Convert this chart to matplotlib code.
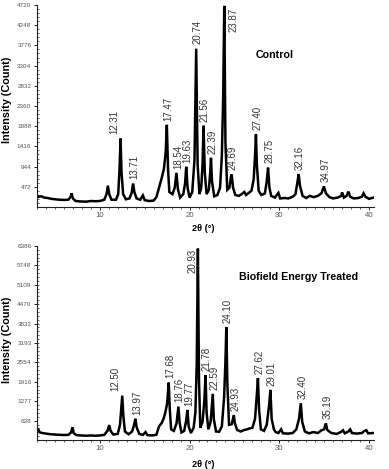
import matplotlib
matplotlib.use("Agg")
import matplotlib.pyplot as plt
from matplotlib.ticker import MultipleLocator, AutoMinorLocator, FixedLocator
import numpy as np

plt.rcParams['font.family'] = ['Liberation Sans', 'DejaVu Sans']

# ---------------- data ----------------
control_2theta = [3.0, 3.2, 3.5, 3.8, 4.2, 4.6, 5.0, 5.5, 6.0, 6.5, 6.75, 6.85, 7.0, 7.3, 7.8, 8.5, 9.0, 9.5,
                  10.0, 10.5, 10.75, 10.9, 11.05, 11.3, 11.8, 12.05, 12.2, 12.31, 12.42, 12.6, 12.9, 13.3, 13.55,
                  13.71, 13.85, 14.1, 14.5, 14.8, 15.0, 15.5, 16.0, 16.3, 16.6, 16.9, 17.15, 17.35, 17.47, 17.6,
                  17.75, 18.1, 18.35, 18.54, 18.7, 18.95, 19.3, 19.5, 19.63, 19.78, 20.0, 20.3, 20.55, 20.74, 20.9,
                  21.1, 21.3, 21.45, 21.56, 21.7, 21.9, 22.15, 22.3, 22.39, 22.5, 22.75, 23.1, 23.4, 23.6, 23.75,
                  23.87, 24.0, 24.2, 24.45, 24.6, 24.69, 24.85, 25.1, 25.5, 25.8, 26.1, 26.3, 26.6, 26.9, 27.15,
                  27.3, 27.40, 27.5, 27.7, 28.0, 28.4, 28.6, 28.75, 28.9, 29.1, 29.5, 29.9, 30.1, 30.6, 31.0, 31.5,
                  31.8, 32.0, 32.16, 32.3, 32.6, 33.0, 33.4, 33.8, 34.3, 34.7, 34.97, 35.2, 35.6, 36.0, 36.5, 36.9,
                  37.0, 37.2, 37.5, 37.7, 37.9, 38.3, 38.8, 39.2, 39.4, 39.6, 40.0, 40.5]
control_counts = [270, 240, 250, 220, 210, 190, 180, 170, 165, 170, 240, 320, 200, 140, 130, 125, 140, 135,
                  140, 170, 300, 500, 300, 170, 170, 300, 900, 1600, 800, 300, 180, 200, 330,
                  550, 350, 200, 170, 270, 160, 140, 150, 230, 450, 680, 900, 1300, 1920, 900,
                  350, 300, 450, 800, 420, 220, 300, 550, 940, 450, 220, 350, 1100, 3700, 1000,
                  300, 450, 1000, 1900, 800, 300, 400, 800, 1150, 600, 250, 280, 450, 1200, 2600,
                  4700, 1500, 400, 450, 700, 760, 450, 280, 260, 300, 350, 280, 330, 380, 650,
                  1200, 1700, 1000, 380, 280, 320, 600, 920, 450, 260, 220, 330, 200, 210, 200, 240,
                  300, 550, 770, 500, 260, 210, 260, 230, 260, 320, 480, 320, 230, 200, 220, 260,
                  340, 220, 260, 360, 240, 200, 210, 240, 320, 240, 190, 220]

treated_2theta = [3.0, 3.1, 3.3, 3.6, 4.0, 4.5, 5.0, 5.5, 6.0, 6.5, 6.8, 6.95, 7.1, 7.4, 8.0, 8.5, 9.0, 9.5,
                  10.0, 10.5, 10.85, 11.05, 11.2, 11.5, 12.0, 12.25, 12.4, 12.50, 12.62, 12.8, 13.2, 13.6, 13.82,
                  13.97, 14.1, 14.4, 14.8, 15.1, 15.3, 15.8, 16.3, 16.6, 16.9, 17.1, 17.3, 17.5, 17.68, 17.8,
                  17.95, 18.25, 18.55, 18.76, 18.9, 19.1, 19.4, 19.6, 19.77, 19.9, 20.15, 20.45, 20.65, 20.8,
                  20.93, 21.05, 21.2, 21.45, 21.65, 21.78, 21.9, 22.1, 22.35, 22.5, 22.59, 22.7, 22.95, 23.3,
                  23.6, 23.85, 24.0, 24.10, 24.22, 24.4, 24.7, 24.93, 25.05, 25.3, 25.7, 26.1, 26.4, 26.7, 27.0,
                  27.3, 27.5, 27.62, 27.75, 27.95, 28.3, 28.6, 28.85, 29.01, 29.15, 29.4, 29.6, 29.9, 30.2, 30.4,
                  31.0, 31.5, 31.9, 32.2, 32.40, 32.55, 32.85, 33.3, 33.8, 34.3, 34.7, 35.0, 35.19, 35.35, 35.8,
                  36.4, 36.9, 37.1, 37.3, 37.7, 37.9, 38.1, 38.6, 39.2, 39.5, 39.7, 39.9, 40.5]
treated_counts = [300, 380, 250, 230, 210, 190, 180, 170, 165, 170, 250, 420, 220, 160, 150, 140, 150, 140,
                  150, 170, 300, 490, 300, 180, 200, 500, 1100, 1460, 800, 280, 190, 280, 500,
                  700, 420, 200, 170, 260, 160, 150, 170, 450, 560, 700, 900, 1200, 1890, 1000,
                  350, 300, 550, 1100, 550, 250, 300, 600, 990, 450, 230, 400, 900, 2500,
                  6300, 2000, 400, 600, 1300, 2140, 900, 350, 600, 1200, 1520, 700, 280, 270,
                  450, 1400, 2600, 3720, 1800, 500, 520, 820, 550, 330, 280, 330, 350, 380, 400,
                  700, 1500, 2035, 1000, 350, 300, 500, 1100, 1650, 700, 350, 260, 230, 350, 220,
                  210, 230, 350, 700, 1210, 600, 280, 220, 260, 230, 320, 350, 550, 330, 230,
                  200, 270, 320, 220, 280, 350, 230, 210, 230, 300, 320, 220, 230]

control_peaks = [12.31, 13.71, 17.47, 18.54, 19.63, 20.74, 21.56, 22.39, 23.87, 24.69, 27.40, 28.75, 32.16, 34.97]
treated_peaks = [12.50, 13.97, 17.68, 18.76, 19.77, 20.93, 21.78, 22.59, 24.10, 24.93, 27.62, 29.01, 32.40, 35.19]

control_yticks = [472, 944, 1416, 1888, 2360, 2832, 3304, 3776, 4248, 4720]
treated_yticks = [638, 1277, 1916, 2554, 3193, 3832, 4470, 5109, 5748, 6386]
x_ticks = [10, 20, 30, 40]

# ---------------- figure ----------------
W, H = 389, 469
fig = plt.figure(figsize=(W / 100, H / 100), dpi=100)
ax1 = fig.add_axes([37 / W, 1 - 207 / H, 336.5 / W, 202 / H])
ax2 = fig.add_axes([37 / W, 1 - 440 / H, 336.5 / W, 194 / H])

tick_col = '#555555'
label_col = '#333333'


def style(ax, yticks, ymax, xlab_y, ylab_y):
    ax.set_xlim(3, 40.5)
    ax.set_ylim(0, ymax)
    for s in ['top', 'right']:
        ax.spines[s].set_visible(False)
    for s in ['left', 'bottom']:
        ax.spines[s].set_linewidth(0.8)
        ax.spines[s].set_color('#222222')
    ax.yaxis.set_major_locator(FixedLocator(yticks))
    ax.yaxis.set_minor_locator(AutoMinorLocator(5))
    ax.xaxis.set_major_locator(FixedLocator(x_ticks))
    ax.xaxis.set_minor_locator(MultipleLocator(1))
    ax.tick_params(axis='y', which='major', direction='out', length=2.5, width=0.7,
                   labelsize=4.6, labelcolor=tick_col, pad=1.5, color='#222222')
    ax.tick_params(axis='y', which='minor', direction='in', length=1.3, width=0.5, color='#222222')
    ax.tick_params(axis='x', which='major', direction='out', length=2.0, width=0.7,
                   labelsize=5.6, labelcolor=tick_col, pad=1.5, color='#222222')
    ax.tick_params(axis='x', which='minor', direction='out', length=1.6, width=0.6, color='#444444')
    ax.set_ylabel('Intensity (Count)', fontsize=7.8, fontweight='bold')
    ax.yaxis.set_label_coords(-(37 - 12.5) / 336.5, ylab_y)
    ax.set_xlabel('2θ (°)', fontsize=6.6, fontweight='bold')
    ax.xaxis.set_label_coords(0.495, xlab_y)


def annotate(ax, xs, ys, peaks, special):
    for p in peaks:
        yv = np.interp(p, xs, ys)
        if p in special:
            kind, dx = special[p]
            if kind == 'top':
                ax.annotate(f'{p:.2f}', xy=(p, 1.0), xycoords=('data', 'axes fraction'),
                            xytext=(dx, -2), textcoords='offset points', rotation=90,
                            ha='center', va='top', fontsize=7, color=label_col)
                continue
            off = dx
        else:
            off = 1.0
        ax.annotate(f'{p:.2f}', xy=(p, yv), xytext=(off, 3), textcoords='offset points',
                    rotation=90, ha='center', va='bottom', fontsize=7, color=label_col)


ax1.plot(control_2theta, control_counts, color='black', lw=1.8, solid_joinstyle='miter')
ax2.plot(treated_2theta, treated_counts, color='black', lw=1.8, solid_joinstyle='miter')

style(ax1, control_yticks, 4720, -0.085, 0.53)
style(ax2, treated_yticks, 6386, -0.105, 0.515)

annotate(ax1, control_2theta, control_counts, control_peaks,
         {12.31: ('up', -4.5), 23.87: ('top', 6.5)})
annotate(ax2, treated_2theta, treated_counts, treated_peaks,
         {12.50: ('up', -5.0), 20.93: ('top', -3.5)})

ax1.text(0.707, 0.752, 'Control', transform=ax1.transAxes, ha='center', va='center',
         fontsize=7.7, fontweight='bold')
ax2.text(0.776, 0.840, 'Biofield Energy Treated', transform=ax2.transAxes, ha='center',
         va='center', fontsize=7.7, fontweight='bold')

fig.savefig('out.png', dpi=100)
